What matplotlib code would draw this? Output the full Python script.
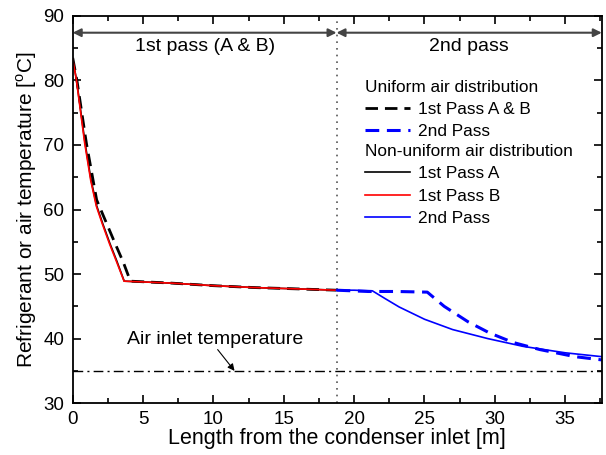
import matplotlib
matplotlib.use("Agg")
import matplotlib.pyplot as plt
from matplotlib.lines import Line2D
from matplotlib.ticker import MultipleLocator

plt.rcParams['font.family'] = ['Liberation Sans', 'DejaVu Sans']
plt.rcParams['mathtext.fontset'] = 'custom'
plt.rcParams['mathtext.rm'] = 'Liberation Sans'

# uniform air distribution
x_uni_1 = [0, 0.3, 0.97, 1.7, 2.3, 3.0, 3.6, 4.1, 7, 10, 13, 16, 18.75]
y_uni_1 = [83.5, 80.0, 70.3, 61.5, 58.4, 54.8, 51.8, 48.9, 48.6, 48.2, 47.9, 47.7, 47.5]
x_uni_2 = [18.75, 21.0, 23.0, 25.2, 26.4, 28.1, 29.6, 31.3, 33.2, 35.7, 37.6]
y_uni_2 = [47.5, 47.3, 47.3, 47.2, 45.0, 42.6, 40.9, 39.4, 38.3, 37.2, 36.7]

# non-uniform air distribution
x_pass_a = [0, 0.27, 0.87, 1.3, 1.7, 2.12, 2.65, 3.12, 3.66, 7, 10, 13, 16, 18.75]
y_pass_a = [83.3, 80.1, 70.4, 64.6, 60.6, 57.9, 54.7, 52.1, 48.9, 48.6, 48.2, 47.9, 47.7, 47.5]
x_pass_b = [0, 0.26, 0.85, 1.28, 1.68, 2.1, 2.63, 3.1, 3.65, 7, 10, 13, 16, 18.75]
y_pass_b = [83.3, 80.1, 70.3, 64.5, 60.5, 57.8, 54.6, 52.0, 48.9, 48.6, 48.2, 47.9, 47.7, 47.5]
x_nu_2 = [18.75, 20.0, 21.3, 22.2, 23.2, 25.0, 27.0, 29.5, 32.0, 35.0, 37.6]
y_nu_2 = [47.5, 47.5, 47.4, 46.2, 44.9, 43.0, 41.4, 40.0, 38.8, 37.8, 37.2]

air_temp = 35
pass_split = 18.75
x_max = 37.6

fig = plt.figure(figsize=(6.06, 4.55), dpi=100)
ax = fig.add_axes([0.12, 0.114, 0.873, 0.851])

ax.axhline(air_temp, color='black', lw=1.0, ls=(0, (7, 3, 1.5, 3)))
ax.axvline(pass_split, color='#555555', lw=1.2, ls=(0, (1, 3)))

ax.plot(x_pass_a, y_pass_a, color='black', lw=1.2)
ax.plot(x_uni_1, y_uni_1, color='black', lw=2.0, ls=(0, (4.5, 2.5)))
ax.plot(x_pass_b, y_pass_b, color='red', lw=1.2)
ax.plot(x_nu_2, y_nu_2, color='blue', lw=1.2)
ax.plot(x_uni_2, y_uni_2, color='blue', lw=2.2, ls=(0, (4.5, 2.5)))

# pass arrows
arr = dict(arrowstyle='<|-|>', color='#444444', lw=1.5, mutation_scale=12,
           shrinkA=0, shrinkB=0)
ax.annotate('', xy=(0, 87.4), xytext=(pass_split, 87.4), arrowprops=arr)
ax.annotate('', xy=(pass_split, 87.4), xytext=(x_max, 87.4), arrowprops=arr)
ax.text(pass_split / 2, 85.2, '1st pass (A & B)', ha='center', va='center', fontsize=14)
ax.text((pass_split + x_max) / 2, 85.2, '2nd pass', ha='center', va='center', fontsize=14)

ax.text(10.1, 39.8, 'Air inlet temperature', ha='center', va='center', fontsize=14)
ax.annotate('', xy=(11.5, air_temp), xytext=(10.3, 38.3),
            arrowprops=dict(arrowstyle='-|>', color='black', lw=0.8,
                            mutation_scale=10, shrinkA=0, shrinkB=0))

# legends
h_uni = [Line2D([], [], color='black', lw=2.0, ls=(0, (4.5, 2.5))),
         Line2D([], [], color='blue', lw=2.2, ls=(0, (4.5, 2.5)))]
h_nu = [Line2D([], [], color='black', lw=1.2),
        Line2D([], [], color='red', lw=1.2),
        Line2D([], [], color='blue', lw=1.2)]
leg_kw = dict(loc='upper left', frameon=False, fontsize=12.4, title_fontsize=12.4,
              alignment='left', borderpad=0, borderaxespad=0, handlelength=2.6,
              handletextpad=0.5, labelspacing=0.42)
leg1 = ax.legend(h_uni, ['1st Pass A & B', '2nd Pass'], title='Uniform air distribution',
                 bbox_to_anchor=(0.552, 0.835), **leg_kw)
ax.add_artist(leg1)
ax.legend(h_nu, ['1st Pass A', '1st Pass B', '2nd Pass'], title='Non-uniform air distribution',
          bbox_to_anchor=(0.552, 0.669), **leg_kw)

ax.set_xlim(0, x_max)
ax.set_ylim(30, 90)
ax.xaxis.set_major_locator(MultipleLocator(5))
ax.xaxis.set_minor_locator(MultipleLocator(2.5))
ax.yaxis.set_major_locator(MultipleLocator(10))
ax.yaxis.set_minor_locator(MultipleLocator(5))
ax.tick_params(which='both', direction='in', top=True, right=True, labelsize=13.5,
               width=1.2, pad=6)
ax.tick_params(which='major', length=6)
ax.tick_params(which='minor', length=3.5)
for s in ax.spines.values():
    s.set_linewidth(1.3)

ax.set_xlabel('Length from the condenser inlet [m]', fontsize=15.5, labelpad=0)
ax.set_ylabel(r'Refrigerant or air temperature [$^{\mathrm{o}}$C]', fontsize=15, labelpad=3)

fig.savefig('out.png', dpi=100)
